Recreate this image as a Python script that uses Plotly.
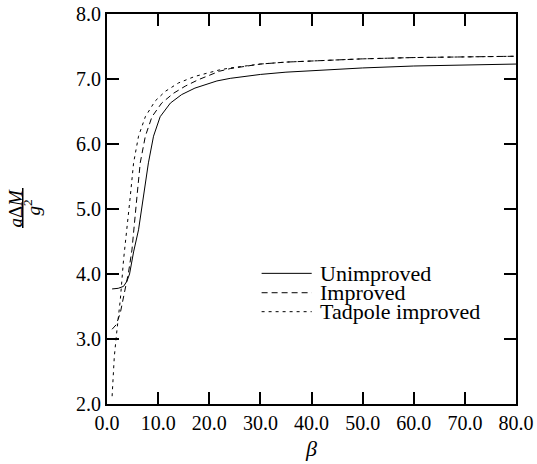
import plotly.graph_objects as go

# beta values and mass gap a*dM/g^2 for the three schemes
beta_unimproved = [1.0, 2.2, 3.24, 3.9, 4.41, 5.2, 6.17, 7.15, 8.1, 9.1, 10.4, 12.4,
                   14.6, 17.2, 19.2, 21.5, 24.1, 27.0, 30.0, 35.0, 40.0, 50.0, 60.0,
                   70.0, 80.0]
mass_unimproved = [3.77, 3.78, 3.81, 3.89, 4.00, 4.34, 4.68, 5.19, 5.71, 6.12, 6.42, 6.63,
                   6.76, 6.86, 6.91, 6.97, 7.01, 7.045, 7.07, 7.105, 7.13, 7.17, 7.20,
                   7.22, 7.23]

beta_improved = [1.0, 1.8, 2.6, 3.57, 4.2, 4.88, 5.2, 5.86, 6.5, 7.5, 8.8, 10.7,
                 13.0, 15.3, 17.9, 20.0, 22.0, 24.1, 27.0, 30.0, 35.0, 40.0, 50.0,
                 60.0, 70.0, 80.0]
mass_improved = [3.15, 3.22, 3.40, 3.76, 4.02, 4.37, 4.68, 5.19, 5.71, 6.12, 6.42, 6.63,
                 6.78, 6.89, 6.99, 7.06, 7.12, 7.16, 7.20, 7.23, 7.26, 7.28, 7.31,
                 7.33, 7.34, 7.35]

beta_tadpole = [1.0, 1.43, 1.95, 2.6, 3.24, 3.9, 4.55, 5.2, 6.17, 7.5, 9.4, 11.4,
                14.0, 17.2, 20.0, 22.0, 24.1, 27.0, 30.0, 35.0, 40.0, 50.0, 60.0,
                70.0, 80.0]
mass_tadpole = [2.12, 2.73, 3.14, 3.60, 4.22, 4.68, 5.19, 5.71, 6.12, 6.42, 6.66, 6.81,
                6.94, 7.04, 7.10, 7.14, 7.17, 7.20, 7.23, 7.26, 7.28, 7.31, 7.33,
                7.34, 7.35]

series_names = ["Unimproved", "Improved", "Tadpole improved"]
series_dash = ["solid", "6px,4px", "3px,4px"]

x_ticks = [0, 10, 20, 30, 40, 50, 60, 70, 80]
y_ticks = [2, 3, 4, 5, 6, 7, 8]

SERIF = "Liberation Serif, Times New Roman, serif"

fig = go.Figure()
for name, xs, ys, dash in zip(series_names,
                              [beta_unimproved, beta_improved, beta_tadpole],
                              [mass_unimproved, mass_improved, mass_tadpole],
                              series_dash):
    fig.add_trace(go.Scatter(x=xs, y=ys, mode="lines", name=name,
                             line=dict(color="black", width=1, dash=dash),
                             showlegend=False))

axis_common = dict(
    showgrid=False, zeroline=False, showline=True, linecolor="black", linewidth=2,
    mirror="ticks", ticks="inside", ticklen=12, tickwidth=2, tickcolor="black",
    tickformat=".1f", tickfont=dict(family=SERIF, size=20, color="black"),
    automargin=False,
)

fig.update_xaxes(range=[0, 80], tickvals=x_ticks, **axis_common,
                 title=dict(text="<i>β</i>", font=dict(family=SERIF, size=22, color="black"),
                            standoff=8))
fig.update_yaxes(range=[2, 8], tickvals=y_ticks, **axis_common)

# hand-drawn legend: sample lines and labels inside the plot area
legend_y = [0.335, 0.2853, 0.2367]
shapes = []
annotations = []
for name, dash, yy in zip(series_names, series_dash, legend_y):
    shapes.append(dict(type="line", xref="paper", yref="paper", x0=0.378, x1=0.5005,
                       y0=yy, y1=yy, line=dict(color="black", width=1, dash=dash)))
    annotations.append(dict(xref="paper", yref="paper", x=0.516, y=yy, text=name,
                            showarrow=False, xanchor="left", yanchor="middle",
                            font=dict(family=SERIF, size=22, color="black")))

# y-axis label as a rotated fraction a*dM / g^2
annotations.append(dict(xref="paper", yref="paper", x=-0.223, y=0.503,
                        text="<i>a</i>Δ<i>M</i>", textangle=-90, showarrow=False,
                        xanchor="center", yanchor="middle",
                        font=dict(family=SERIF, size=19, color="black")))
annotations.append(dict(xref="paper", yref="paper", x=-0.184, y=0.503,
                        text="<i>g</i><sup>2</sup>", textangle=-90, showarrow=False,
                        xanchor="center", yanchor="middle",
                        font=dict(family=SERIF, size=19, color="black")))
shapes.append(dict(type="line", xref="paper", yref="paper", x0=-0.206, x1=-0.206,
                   y0=0.4513, y1=0.5538, line=dict(color="black", width=1.5)))

fig.update_layout(
    width=537, height=464,
    margin=dict(l=107, r=21, t=14, b=60),
    plot_bgcolor="white", paper_bgcolor="white",
    shapes=shapes, annotations=annotations,
)

fig.write_html("out.html")
